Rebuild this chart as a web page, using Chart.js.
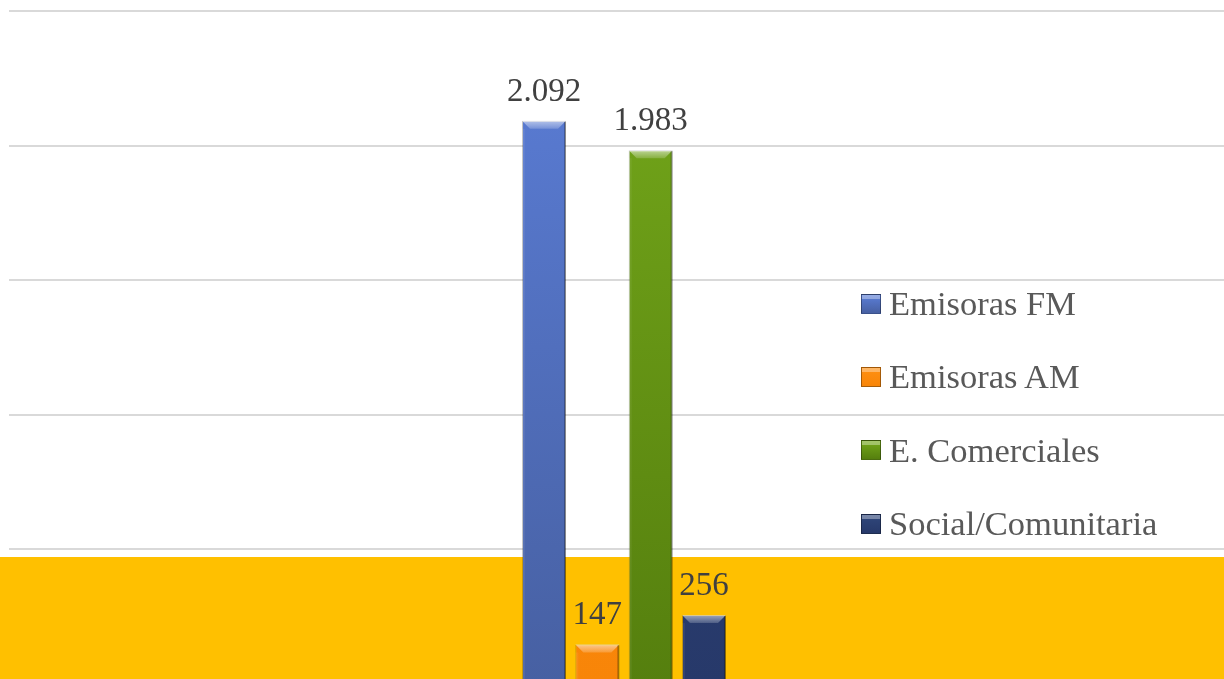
<!DOCTYPE html>
<html lang="es">
<head>
<meta charset="utf-8">
<title>Emisoras</title>
<script src="https://cdn.jsdelivr.net/npm/chart.js@4.4.1/dist/chart.umd.min.js"></script>
<style>
    html, body { margin: 0; padding: 0; background: #fff; overflow: hidden; }
    #stage { position: relative; width: 1224px; height: 679px; overflow: hidden; }
    #band { position: absolute; left: 0; right: 0; top: 557px; bottom: 0; background: #FFC000; }
    #wrap { position: absolute; left: 0; top: 0; width: 1240px; height: 700px; }
    #legend { position: absolute; left: 861px; top: 267px; font-family: "Liberation Serif", serif; font-size: 34.5px; color: #595959; }
    .legend-item { display: flex; align-items: center; height: 73.3px; white-space: nowrap; }
    .legend-box { width: 20px; height: 20px; margin-right: 8px; box-sizing: border-box; border: 1px solid rgba(0,0,0,0.35); }
</style>
</head>
<body>
<div id="stage">
    <div id="band"></div>
    <div id="wrap"><canvas id="chart"></canvas></div>
    <div id="legend"></div>
</div>
<script>
// ── Data ──────────────────────────────────────────────
const categories = [''];
const seriesLabels = ['Emisoras FM', 'Emisoras AM', 'E. Comerciales', 'Social/Comunitaria'];
const seriesValues = [2092, 147, 1983, 256];
const yMax = 2500;
const yStep = 500;

// top / bottom shades per series
const topColors = ['#5B7ED8', '#FF9012', '#75A91B', '#30477B'];
const bottomColors = ['#4760A2', '#F88508', '#557F0E', '#27396A'];

function fmt(v) {
    return String(v).replace(/\B(?=(\d{3})+(?!\d))/g, '.');
}

function barFill(i) {
    return ctx => {
        const area = ctx.chart.chartArea;
        if (!area) return topColors[i];
        const g = ctx.chart.ctx.createLinearGradient(0, area.top, 0, area.bottom);
        g.addColorStop(0, topColors[i]);
        g.addColorStop(1, bottomColors[i]);
        return g;
    };
}

// bevel on top of each bar + value label
const bevelPlugin = {
    id: 'bevel',
    afterDatasetsDraw(chart) {
        const { ctx } = chart;
        chart.data.datasets.forEach((ds, i) => {
            const meta = chart.getDatasetMeta(i);
            meta.data.forEach((bar, j) => {
                const left = bar.x - bar.width / 2;
                const right = bar.x + bar.width / 2;
                const top = bar.y;
                const b = 8;
                ctx.save();
                // top face
                const g = ctx.createLinearGradient(0, top, 0, top + b);
                g.addColorStop(0, 'rgba(255,255,255,0.55)');
                g.addColorStop(1, 'rgba(255,255,255,0.18)');
                ctx.fillStyle = g;
                ctx.beginPath();
                ctx.moveTo(left, top);
                ctx.lineTo(right, top);
                ctx.lineTo(right - b, top + b);
                ctx.lineTo(left + b, top + b);
                ctx.closePath();
                ctx.fill();
                // side edges
                ctx.fillStyle = 'rgba(0,0,0,0.28)';
                ctx.fillRect(right - 2, top + 1, 2, bar.base - top - 1);
                ctx.fillStyle = 'rgba(255,255,255,0.06)';
                ctx.fillRect(left, top + b, 3, bar.base - top - b);
                ctx.restore();

                // value label
                ctx.save();
                ctx.font = '33px "Liberation Serif", serif';
                ctx.fillStyle = '#404040';
                ctx.textAlign = 'center';
                ctx.textBaseline = 'alphabetic';
                ctx.fillText(fmt(ds.data[j]), bar.x, top - 20);
                ctx.restore();
            });
        });
    }
};

const chart = new Chart(document.getElementById('chart'), {
    type: 'bar',
    data: {
        labels: categories,
        datasets: seriesLabels.map((label, i) => ({
            label,
            data: [seriesValues[i]],
            backgroundColor: barFill(i),
            borderColor: 'rgba(0,0,0,0.25)',
            borderWidth: 1,
            categoryPercentage: 0.1734,
            barPercentage: 0.825
        }))
    },
    plugins: [bevelPlugin],
    options: {
        responsive: true,
        maintainAspectRatio: false,
        animation: false,
        layout: { padding: { top: 11, left: 9, right: 1, bottom: 16 } },
        plugins: {
            legend: { display: false },
            tooltip: { enabled: false }
        },
        scales: {
            x: { display: false },
            y: {
                min: 0,
                max: yMax,
                border: { display: false },
                grid: { color: '#D9D9D9', lineWidth: 2, drawTicks: false },
                ticks: { display: false, stepSize: yStep }
            }
        }
    }
});

// ── HTML legend ───────────────────────────────────────
const legendEl = document.getElementById('legend');
seriesLabels.forEach((label, i) => {
    const row = document.createElement('div');
    row.className = 'legend-item';
    const box = document.createElement('span');
    box.className = 'legend-box';
    box.style.background = `linear-gradient(180deg, ${topColors[i]} 0%, ${bottomColors[i]} 100%)`;
    box.style.boxShadow = 'inset 0 4px 0 rgba(255,255,255,0.35)';
    const text = document.createElement('span');
    text.textContent = label;
    row.appendChild(box);
    row.appendChild(text);
    legendEl.appendChild(row);
});
</script>
</body>
</html>
